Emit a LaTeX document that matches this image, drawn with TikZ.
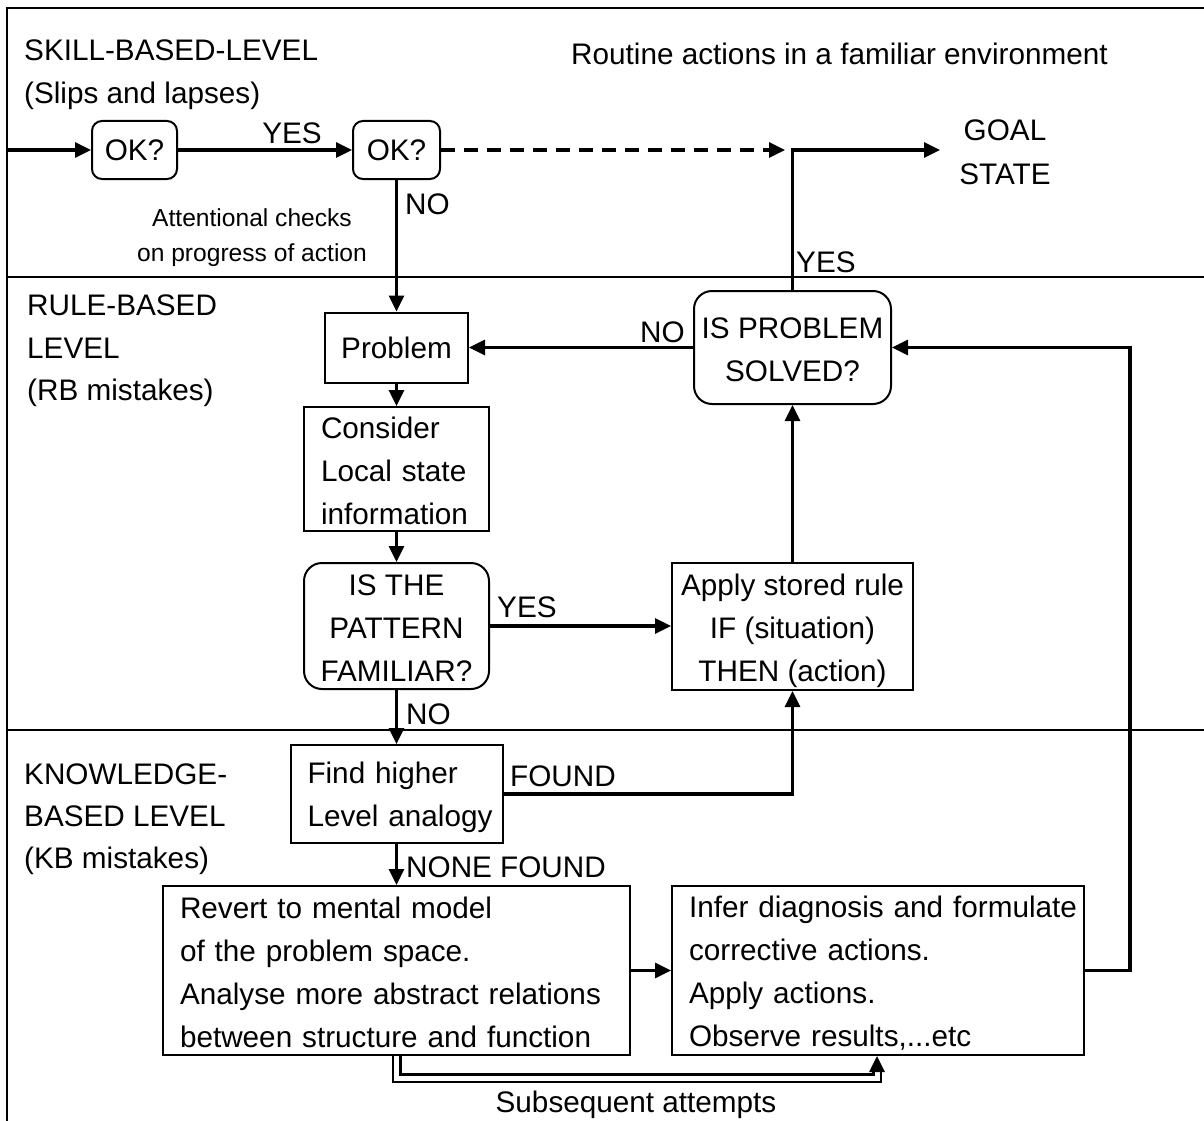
\documentclass[tikz,border=0pt]{standalone}
\usepackage{fontspec}
\setmainfont{Liberation Sans}
\usetikzlibrary{arrows.meta}
\newcommand\firstline[1]{\rule{0pt}{#1}}
\tikzset{
  txt/.style={inner sep=0pt, font=\fontsize{29.7}{43}\selectfont},
  smalltxt/.style={inner sep=0pt, font=\fontsize{24.6}{36}\selectfont},
  box/.style={draw, line width=2pt, inner sep=0pt, align=center, font=\fontsize{29.7}{43}\selectfont},
  rbox/.style={box, rounded corners=18pt},
  okbox/.style={box, rounded corners=10pt, minimum height=58pt},
  lbox/.style={draw, line width=2pt, inner xsep=17pt, inner ysep=0pt, align=left, font=\fontsize{29.7}{43}\selectfont},
  conn/.style={line width=3.2pt, -{Triangle[length=16pt,width=15pt]}},
  dbl/.style={line width=2.5pt, double distance=5pt},
  framel/.style={line width=2.5pt},
}
\begin{document}
\begin{tikzpicture}[x=1pt,y=-1pt]
\useasboundingbox (0,0) rectangle (1204,1121);
% frame and level dividers
\draw[framel] (7,1121) -- (7,8) -- (1204,8);
\draw[framel] (7,277) -- (1204,277);
\draw[framel] (7,730) -- (1204,730);

% level labels
\node[txt, anchor=base west] (skill1) at (24,61) {SKILL-BASED-LEVEL};
\node[txt, anchor=base west] (skill2) at (24,104) {(Slips and lapses)};
\node[txt, anchor=base west] (routine) at (571,65) {Routine actions in a familiar environment};
\node[txt, anchor=base west] (rule1) at (27,315) {RULE-BASED};
\node[txt, anchor=base west] (rule2) at (27,358) {LEVEL};
\node[txt, anchor=base west] (rule3) at (27,400) {(RB mistakes)};
\node[txt, anchor=base west] (know1) at (24,784) {KNOWLEDGE-};
\node[txt, anchor=base west] (know2) at (24,826) {BASED LEVEL};
\node[txt, anchor=base west] (know3) at (24,868) {(KB mistakes)};
\node[smalltxt, anchor=base] (att1) at (252,226) {Attentional checks};
\node[smalltxt, anchor=base] (att2) at (252,261) {on progress of action};
\node[txt, anchor=base] (goal1) at (1005,140) {GOAL};
\node[txt, anchor=base] (goal2) at (1005,184) {STATE};

% boxes
\node[okbox, minimum width=85pt] (ok1) at (134.5,150) {OK?};
\node[okbox, minimum width=87pt] (ok2) at (396.5,150) {OK?};
\node[box, minimum width=143pt, minimum height=70pt] (problem) at (396.5,347.5) {Problem};
\node[lbox, text width=151pt, minimum height=124pt] (consider) at (396.5,469) {\firstline{25.5pt}Consider\\Local state\\information};
\node[rbox, minimum width=185pt, minimum height=126pt] (pattern) at (396.5,626) {\firstline{25.5pt}IS THE\\PATTERN\\FAMILIAR?};
\node[box, minimum width=241pt, minimum height=127pt] (apply) at (792.5,626.5) {\firstline{29.5pt}Apply stored rule\\IF (situation)\\THEN (action)};
\node[rbox, minimum width=197pt, minimum height=113pt] (solved) at (792.5,347.5) {\firstline{25.5pt}IS PROBLEM\\SOLVED?};
\node[lbox, text width=178pt, minimum height=98pt] (find) at (396.5,794) {\mbox{\firstline{28.5pt}Find higher}\\\mbox{Level analogy}};
\node[lbox, text width=433pt, minimum height=169pt] (revert) at (396.5,970.5) {\mbox{\firstline{25.5pt}Revert to mental model}\\\mbox{of the problem space.}\\\mbox{Analyse more abstract relations}\\\mbox{between structure and function}};
\node[lbox, text width=378pt, minimum height=169pt] (infer) at (878,970.5) {\mbox{\firstline{27.5pt}Infer diagnosis and formulate}\\\mbox{corrective actions.}\\\mbox{Apply actions.}\\\mbox{Observe results,...etc}};

% free ends
\coordinate (entry) at (7,150);
\coordinate (dashend) at (785,150);
\coordinate (goalin) at (940,150);
\coordinate (dblend) at (877,1069);

% connector labels
\node[txt, anchor=base] (yes1) at (292,143) {YES};
\node[txt, anchor=base west] (no1) at (405,214) {NO};
\node[txt, anchor=base west] (yes2) at (796,272) {YES};
\node[txt, anchor=base west] (no2) at (640,342) {NO};
\node[txt, anchor=base west] (yes3) at (497,617) {YES};
\node[txt, anchor=base west] (no3) at (406,724) {NO};
\node[txt, anchor=base west] (found) at (510,786) {FOUND};
\node[txt, anchor=base west] (nonefound) at (406,877) {NONE FOUND};
\node[txt, anchor=base] (subseq) at (636,1112) {Subsequent attempts};

% connectors
\draw[conn] (entry) -- (ok1);
\draw[conn] (ok1) -- (ok2);
\draw[conn, dash pattern=on 14pt off 9pt] (ok2) -- (dashend);
\draw[conn] (solved.north) -- (solved.north |- goalin) -- (goalin);
\draw[conn] (ok2.south) -- (problem.north);
\draw[conn] (problem) -- (consider);
\draw[conn] (consider) -- (pattern);
\draw[conn] (pattern.east) -- (pattern.east -| apply.west);
\draw[conn] (apply) -- (solved);
\draw[conn] (solved.west) -- (solved.west -| problem.east);
\draw[conn] (pattern) -- (find);
\draw[conn] (find.east) -| (apply.south);
\draw[conn] (find) -- (revert);
\draw[conn] (revert.east) -- (revert.east -| infer.west);
\draw[conn] (infer.east) -- ++(45,0) |- (solved.east);
\draw[dbl] (revert.south) -- ++(0,22) -| (dblend);
\draw[conn] ([yshift=2pt]dblend) -- (dblend |- infer.south);
\end{tikzpicture}
\end{document}
